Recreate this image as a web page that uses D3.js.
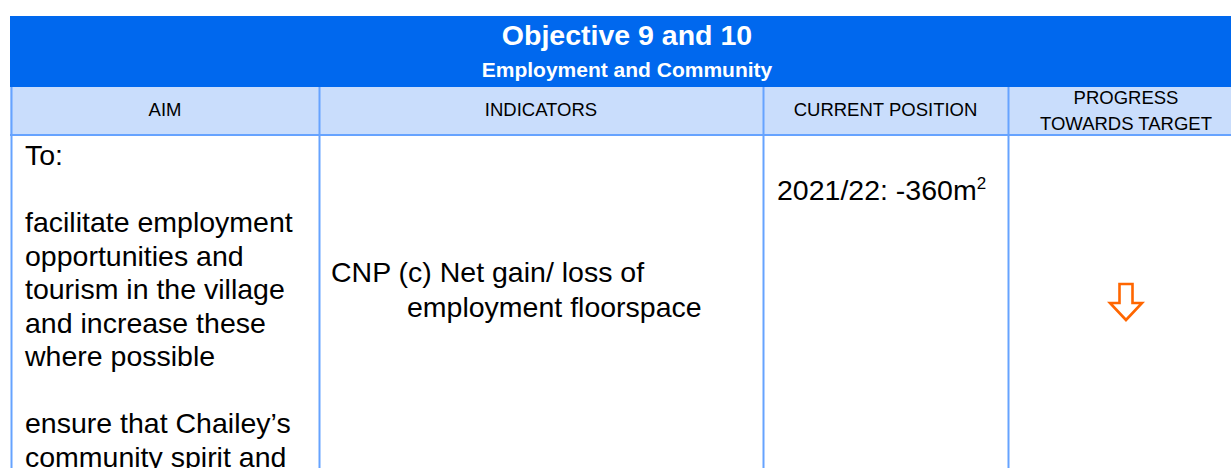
<!DOCTYPE html>
<html lang="en">
<head>
	<title>Objective 9 and 10</title>
	<meta charset="utf-8">
	<style>
		html, body { margin: 0; padding: 0; background: #fff; }
		#table text { font-family: "Liberation Sans", Arial, sans-serif; fill: #000; }
	</style>
</head>
<body>
	<svg id="table" width="1231" height="468"></svg>

	<script src="https://d3js.org/d3.v7.min.js"></script>
	<script>
		"use strict";

		// table content
		var title = "Objective 9 and 10";
		var subtitle = "Employment and Community";
		var headers = [["AIM"], ["INDICATORS"], ["CURRENT POSITION"], ["PROGRESS", "TOWARDS TARGET"]];
		var aimLines = ["To:", "", "facilitate employment", "opportunities and",
			"tourism in the village", "and increase these", "where possible", "",
			"ensure that Chailey\u2019s", "community spirit and"];
		var indicatorLines = ["CNP (c) Net gain/ loss of", "employment floorspace"];
		var positionYears = ["2021/22"];
		var positionValues = [-360];
		var progress = ["down"];

		// layout
		var colWidths = [308, 444, 245, 236];
		var left = 11;
		var edges = [left];
		colWidths.forEach(function(w){ edges.push(edges[edges.length - 1] + w); });

		var x = d3.scaleOrdinal().domain(d3.range(headers.length)).range(edges);
		function mid(i){ return (edges[i] + edges[i + 1]) / 2; }

		var blue = "#0068ee", pale = "#c9ddfc", line = "#66a3ff", orange = "#ff6600";
		var svg = d3.select("#table");

		// title band
		svg.append("rect").attr("x", 10).attr("y", 16).attr("width", 1240).attr("height", 71).attr("fill", blue);
		svg.append("text").attr("x", 627).attr("y", 45).attr("text-anchor", "middle")
			.style("fill", "#fff").style("font-weight", "bold").style("font-size", "28.5px").text(title);
		svg.append("text").attr("x", 627).attr("y", 77).attr("text-anchor", "middle")
			.style("fill", "#fff").style("font-weight", "bold").style("font-size", "21px").text(subtitle);

		// header row
		svg.append("rect").attr("x", 10).attr("y", 87).attr("width", 1240).attr("height", 48).attr("fill", pale);

		var hy = d3.scaleLinear().domain([0, 1]).range([104, 129.5]);
		var hg = svg.selectAll("g.head").data(headers).enter().append("g").attr("class", "head");
		hg.selectAll("text").data(function(d, i){
				return d.map(function(t, j){ return {t: t, col: i, row: j, n: d.length}; });
			}).enter().append("text")
			.attr("x", function(d){ return mid(d.col); })
			.attr("y", function(d){ return d.n === 1 ? 116 : hy(d.row); })
			.attr("text-anchor", "middle")
			.style("font-size", "18.5px")
			.text(function(d){ return d.t; });

		// grid lines
		svg.append("line").attr("x1", 10).attr("x2", 1231).attr("y1", 135).attr("y2", 135)
			.attr("stroke", line).attr("stroke-width", 2);
		svg.selectAll("line.col").data(d3.range(headers.length + 1)).enter().append("line")
			.attr("class", "col")
			.attr("x1", function(d){ return x(d) + 0.5; }).attr("x2", function(d){ return x(d) + 0.5; })
			.attr("y1", 87).attr("y2", 468)
			.attr("stroke", line).attr("stroke-width", 2);

		// aim column
		var ly = d3.scaleLinear().domain([0, 1]).range([165, 198.5]);
		svg.selectAll("text.aim").data(aimLines).enter().append("text")
			.attr("class", "aim")
			.attr("x", x(0) + 14)
			.attr("y", function(d, i){ return ly(i); })
			.style("font-size", "28.5px")
			.text(function(d){ return d; });

		// indicators column (hanging indent)
		var iy = d3.scaleLinear().domain([0, 1]).range([282, 317]);
		svg.selectAll("text.ind").data(indicatorLines).enter().append("text")
			.attr("class", "ind")
			.attr("x", function(d, i){ return x(1) + (i === 0 ? 12 : 88); })
			.attr("y", function(d, i){ return iy(i); })
			.style("font-size", "28.5px")
			.text(function(d){ return d; });

		// current position
		var pos = svg.selectAll("text.pos").data(positionYears).enter().append("text")
			.attr("class", "pos")
			.attr("x", x(2) + 14)
			.attr("y", function(d, i){ return 200 + i * 34; })
			.style("font-size", "28.5px");
		pos.append("tspan").text(function(d, i){ return d + ": " + positionValues[i] + "m"; });
		pos.append("tspan").attr("dy", -11).style("font-size", "17px").text("2");

		// progress arrow
		var arrowShape = [[-6.5, -18], [6.5, -18], [6.5, 1], [16, 1], [0, 18], [-16, 1], [-6.5, 1]];
		svg.selectAll("path.arrow").data(progress).enter().append("path")
			.attr("class", "arrow")
			.attr("transform", function(d){
				return "translate(" + mid(3) + ",302)" + (d === "down" ? "" : " rotate(180)");
			})
			.attr("d", d3.line()(arrowShape) + "Z")
			.attr("fill", "#fff")
			.attr("stroke", orange)
			.attr("stroke-width", 2.6)
			.attr("stroke-linejoin", "miter");
	</script>
</body>
</html>
